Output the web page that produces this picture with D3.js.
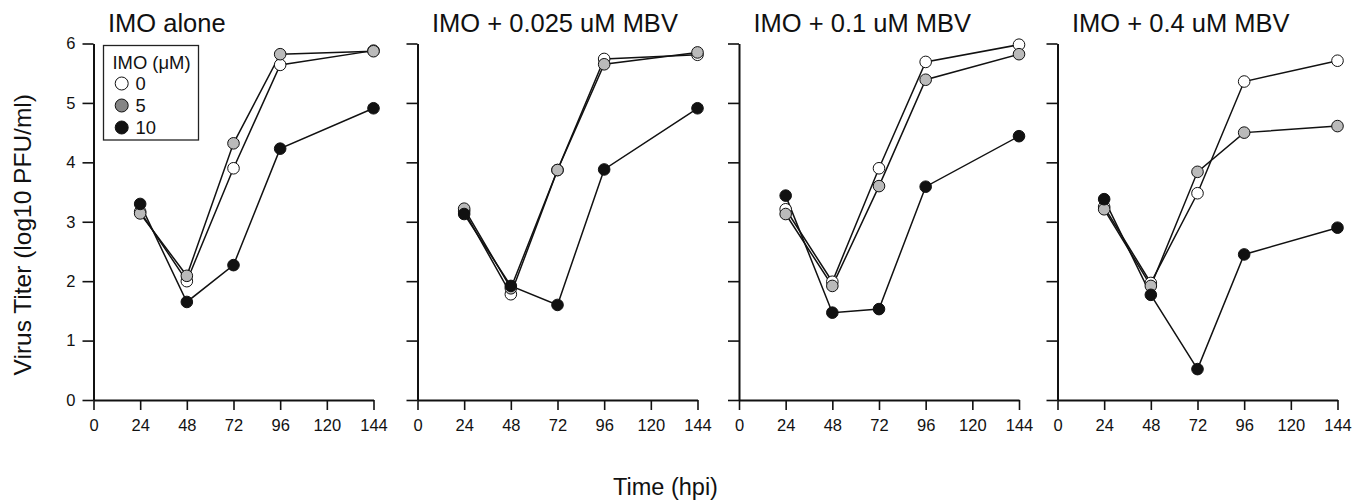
<!DOCTYPE html>
<html>
<head>
<meta charset="utf-8">
<script src="https://cdn.jsdelivr.net/npm/d3@7"></script>
<style>
  html, body { margin: 0; padding: 0; background: #fff; }
  svg { display: block; font-family: Arial, "Liberation Sans", Helvetica, sans-serif; }
</style>
</head>
<body>
<svg id="chart" width="1367" height="502"></svg>
<script>
// ---- data ----
const hours = [24, 48, 72, 96, 144];
const xTicks = [0, 24, 48, 72, 96, 120, 144];
const yTicks = [0, 1, 2, 3, 4, 5, 6];
const panelTitles = ["IMO alone", "IMO + 0.025 uM MBV", "IMO + 0.1 uM MBV", "IMO + 0.4 uM MBV"];
const seriesLabels = ["0", "5", "10"];
// IMO 0 µM (open circles), one row per panel
const imo0Values = [
  [3.17, 2.00, 3.90, 5.64, 5.88],
  [3.18, 1.78, 3.87, 5.74, 5.81],
  [3.21, 1.99, 3.90, 5.69, 5.98],
  [3.25, 1.97, 3.48, 5.36, 5.71]
];
// IMO 5 µM (gray circles)
const imo5Values = [
  [3.14, 2.09, 4.32, 5.82, 5.87],
  [3.22, 1.88, 3.87, 5.65, 5.85],
  [3.13, 1.92, 3.60, 5.39, 5.82],
  [3.21, 1.92, 3.84, 4.50, 4.61]
];
// IMO 10 µM (black circles)
const imo10Values = [
  [3.30, 1.65, 2.27, 4.23, 4.91],
  [3.13, 1.92, 1.60, 3.88, 4.91],
  [3.44, 1.47, 1.53, 3.59, 4.44],
  [3.38, 1.77, 0.52, 2.45, 2.90]
];

// ---- layout ----
const svg = d3.select("#chart");
const panelLefts = [93.5, 417.5, 739, 1057.5];
const plotW = 280;
const yTop = 43.5, yBottom = 400;
const seriesFill = ["#ffffff", "#bababa", "#111111"];
const legendFill = ["#ffffff", "#858585", "#111111"];
const allSeries = [imo0Values, imo5Values, imo10Values];

const y = d3.scaleLinear().domain([0, 6]).range([yBottom, yTop]);

panelLefts.forEach((left, p) => {
  const x = d3.scaleLinear().domain([0, 144]).range([left, left + plotW]);
  const g = svg.append("g");

  // axes
  const xAxis = d3.axisBottom(x).tickValues(xTicks).tickFormat(d3.format("d"))
    .tickSize(10).tickPadding(9).tickSizeOuter(0);
  const gx = g.append("g").attr("transform", `translate(0,${yBottom})`).call(xAxis);
  const yAxis = d3.axisLeft(y).tickValues(yTicks).tickFormat(d3.format("d"))
    .tickSize(11).tickPadding(7).tickSizeOuter(0);
  const gy = g.append("g").attr("transform", `translate(${left},0)`).call(yAxis);
  if (p > 0) gy.selectAll(".tick text").remove();
  [gx, gy].forEach(a => {
    a.attr("font-size", 16.5).attr("font-family", "Arial, 'Liberation Sans', sans-serif");
    a.select(".domain").attr("stroke", "#111").attr("stroke-width", 2);
    a.selectAll(".tick line").attr("stroke", "#111").attr("stroke-width", 1.6);
    a.selectAll(".tick text").attr("fill", "#111");
  });

  // title
  g.append("text")
    .attr("x", left + 14.5).attr("y", 31.5)
    .attr("font-size", 25.5).attr("fill", "#111")
    .text(panelTitles[p]);

  // series: lines first, then markers (open, gray, black on top)
  const line = d3.line().x(d => x(d.h)).y(d => y(d.v));
  allSeries.forEach((series) => {
    const pts = hours.map((h, i) => ({ h, v: series[p][i] }));
    g.append("path").datum(pts)
      .attr("d", line).attr("fill", "none")
      .attr("stroke", "#111").attr("stroke-width", 1.5);
  });
  allSeries.forEach((series, s) => {
    const pts = hours.map((h, i) => ({ h, v: series[p][i] }));
    g.selectAll(null).data(pts).enter().append("circle")
      .attr("cx", d => x(d.h)).attr("cy", d => y(d.v)).attr("r", 5.8)
      .attr("fill", seriesFill[s]).attr("stroke", "#111").attr("stroke-width", 1);
  });
});

// legend
const lg = svg.append("g");
lg.append("rect").attr("x", 103.5).attr("y", 45.5).attr("width", 95).attr("height", 94.5)
  .attr("fill", "#fff").attr("stroke", "#222").attr("stroke-width", 1.3);
lg.append("text").attr("x", 112.5).attr("y", 68.5).attr("font-size", 18.4).attr("fill", "#111")
  .text("IMO (\u03bcM)");
seriesLabels.forEach((lab, i) => {
  const cy = 83.5 + i * 22;
  lg.append("circle").attr("cx", 121.7).attr("cy", cy).attr("r", 6.5)
    .attr("fill", legendFill[i]).attr("stroke", "#111").attr("stroke-width", 1);
  lg.append("text").attr("x", 135.5).attr("y", cy + 6.5).attr("font-size", 18.4).attr("fill", "#111")
    .text(lab);
});

// axis titles
svg.append("text")
  .attr("transform", `translate(31,${(yTop + yBottom) / 2 + 13}) rotate(-90)`)
  .attr("text-anchor", "middle").attr("font-size", 24.5).attr("fill", "#111")
  .text("Virus Titer (log10 PFU/ml)");
svg.append("text")
  .attr("x", 665.5).attr("y", 495)
  .attr("text-anchor", "middle").attr("font-size", 23.5).attr("fill", "#111")
  .text("Time (hpi)");
</script>
</body>
</html>
